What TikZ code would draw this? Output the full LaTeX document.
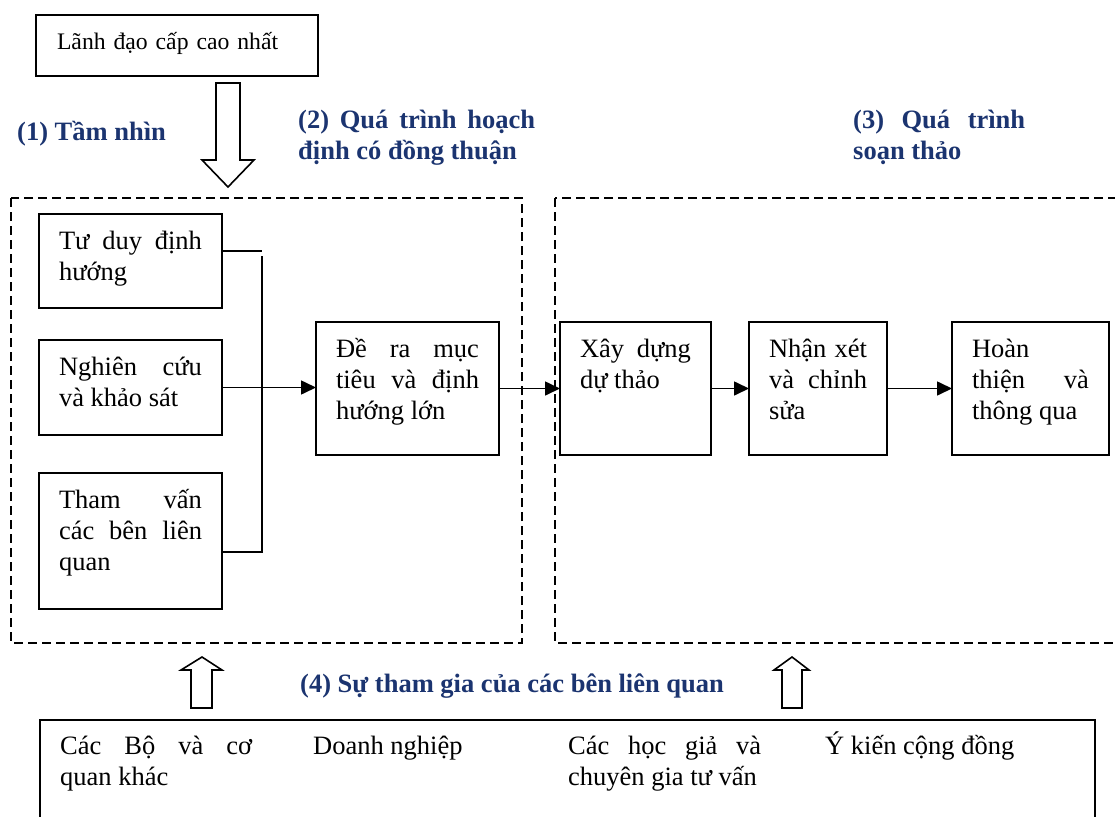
\documentclass[tikz,border=0pt]{standalone}
\usepackage{fontspec}
\setmainfont{Liberation Serif}
\usepackage{tikz}
\usetikzlibrary{arrows.meta, positioning, calc}
\definecolor{headingnavy}{HTML}{1B3470}

\begin{document}
\begin{tikzpicture}[x=1pt, y=-1pt,
  font=\fontsize{26.5pt}{31pt}\selectfont,
  procbox/.style={draw, line width=1.6pt, align=justify, inner xsep=20pt, inner ysep=0pt, outer sep=0pt, text height=35pt},
  heading/.style={text=headingnavy, font=\fontsize{26.5pt}{31pt}\selectfont\bfseries, inner sep=0pt, align=justify},
  flow/.style={-{Triangle[length=15pt,width=14pt]}, line width=1.6pt},
  frame/.style={dash pattern=on 9pt off 5pt, line width=1.6pt},
  hollow/.style={line width=1.6pt, fill=white}]
  \useasboundingbox[fill=white] (0,0) rectangle (1115,816);
  \clip (0,0) rectangle (1115,816);

  % leadership and vision
  \node[procbox, anchor=north west, align=left, inner xsep=21pt, text width=240pt, text depth=26pt, font=\fontsize{23.7pt}{31pt}\selectfont] (leader) at (36,15) {Lãnh đạo cấp cao nhất};
  \draw[hollow] (216,83) -- (240,83) -- (240,160) -- (254,160) -- (228,187) -- (202,160) -- (216,160) -- cycle;

  \node[heading, anchor=base west] (vision) at (17,140) {(1) Tầm nhìn};
  \node[heading, anchor=base west, text width=237pt] (planning) at (298,128) {(2) Quá trình hoạch\linebreak định có đồng thuận};
  \node[heading, anchor=base west, text width=172pt] (drafting) at (853,128) {(3) Quá trình\linebreak soạn thảo};

  % the two stages
  \draw[frame] (11,198) rectangle (522,643);
  \draw[frame] (555,198) rectangle (1140,643);

  \node[procbox, anchor=north west, text width=143pt, text depth=59pt] (thinking) at (39,214) {Tư duy định\linebreak hướng};
  \node[procbox, below=32pt of thinking, text width=143pt, text depth=60pt] (research) {Nghiên cứu\linebreak và khảo sát};
  \node[procbox, below=38pt of research, text width=143pt, text depth=101pt] (consult) {Tham vấn\linebreak các bên liên\linebreak quan};

  \node[procbox, anchor=north west, text width=143pt, text depth=98pt] (goals) at (316,322) {Đề ra mục\linebreak tiêu và định\linebreak hướng lớn};
  \node[procbox, right=61pt of goals, text width=111pt, text depth=98pt] (draft) {Xây dựng\linebreak dự thảo};
  \node[procbox, right=38pt of draft, text width=98pt, text depth=98pt] (review) {Nhận xét\linebreak và chỉnh\linebreak sửa};
  \node[procbox, right=65pt of review, text width=117pt, text depth=98pt] (final) {Hoàn\\ thiện \hfill và\\ thông qua};

  \draw[line width=1.6pt] ([yshift=10pt]thinking.east) -- ++(40,0);
  \draw[line width=1.6pt] ([yshift=-11pt]consult.east) -| ($([yshift=10pt]thinking.east)+(40,5)$);
  \draw[flow] (research.east) -- (research.east -| goals.west);
  \draw[flow] (goals.east) -- (draft.west);
  \draw[flow] (draft.east) -- (review.west);
  \draw[flow] (review.east) -- (final.west);

  % stakeholder participation
  \draw[hollow] (191,708) -- (212,708) -- (212,670) -- (222,670) -- (202,657) -- (181,670) -- (191,670) -- cycle;
  \draw[hollow] (782,708) -- (802,708) -- (802,670) -- (809,670) -- (792,657) -- (774,670) -- (782,670) -- cycle;
  \node[heading, anchor=base west] (participation) at (300,692) {(4) Sự tham gia của các bên liên quan};

  \node[draw, line width=1.6pt, anchor=north west, minimum width=1055pt, minimum height=200pt, inner sep=0pt] (stakeholders) at (39,719) {};
  \node[anchor=base west, inner sep=0pt, text width=192pt, align=justify] (ministries) at (60,754) {Các Bộ và cơ\linebreak quan khác};
  \node[anchor=base west, inner sep=0pt] (business) at (313,754) {Doanh nghiệp};
  \node[anchor=base west, inner sep=0pt, text width=193pt, align=justify] (experts) at (568,754) {Các học giả và\linebreak chuyên gia tư vấn};
  \node[anchor=base west, inner sep=0pt] (public) at (825,754) {Ý kiến cộng đồng};
\end{tikzpicture}
\end{document}
